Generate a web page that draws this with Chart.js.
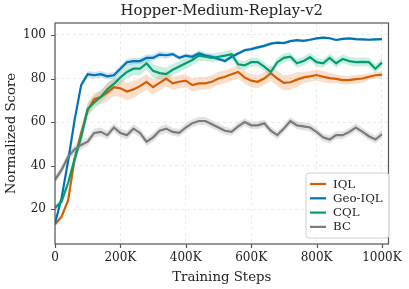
<!DOCTYPE html>
<html>
<head>
<meta charset="utf-8">
<script src="https://cdn.jsdelivr.net/npm/chart.js@4/dist/chart.umd.min.js"></script>
<style>
  html, body { margin: 0; padding: 0; background: #fff; }
  #myChart { display: block; }
</style>
</head>
<body>
<canvas id="myChart" width="409" height="289"></canvas>
<script>
// training curves, values
// x in thousands of steps

var stepsK = [0, 20, 40, 60, 80, 100, 120, 140, 160, 180, 200, 220, 240, 260, 280, 300, 320, 340, 360, 380,
    400, 420, 440, 460, 480, 500, 520, 540, 560, 580, 600, 620, 640, 660, 680, 700, 720, 740, 760, 780,
    800, 820, 840, 860, 880, 900, 920, 940, 960, 980, 1000];

var iql = [13, 16.5, 24, 43, 55, 65.5, 70.5, 71.5, 73.5, 76, 75.5, 74, 75, 76.5, 78.5, 76, 78, 80, 77.8, 78.5,
    79, 77, 77.8, 77.8, 78.5, 80, 80.8, 82, 83, 80.5, 79, 78.5, 80, 82.5, 80, 78, 78.3, 79.5, 80.5, 81,
    81.6, 80.8, 80.2, 79.8, 79.3, 79.3, 79.7, 80, 80.8, 81.5, 81.8];
var geoIql = [13.5, 25, 42, 61, 77, 82, 81.5, 82, 81, 81.5, 84.5, 87.5, 88, 88, 89.5, 89.5, 91, 90.7, 91.2, 89.5,
    90.5, 90, 91.5, 90.5, 90, 89, 88, 90, 91.5, 93, 93.5, 94.3, 95, 96, 96.5, 96.3, 97.2, 97.6, 97.3, 97.8,
    98.4, 98.8, 98.5, 97.7, 98.2, 98.4, 98.1, 98, 97.8, 98, 98.1];
var cql = [20.5, 23.5, 32, 43, 53, 66, 69, 71.5, 75, 77.5, 80.5, 83, 84.5, 84.5, 87, 83.5, 82.5, 82, 84, 85.5,
    87, 88.5, 90.5, 90, 89.5, 90, 90.5, 91.2, 86.5, 86, 87.5, 87.5, 85.5, 83, 87.5, 89.5, 90, 87, 88, 89.8,
    87.5, 87, 89.5, 87, 89, 88, 87.5, 87.6, 87.5, 84.5, 87.3];
var bc = [33.5, 38, 44, 47.5, 49.5, 51, 55, 55.5, 54, 57.5, 55, 54, 57, 55, 51, 53, 56, 57, 55.5, 55,
    57.5, 59.5, 60.5, 60.5, 59, 57.5, 56, 55.5, 58, 60, 58.5, 58.5, 59.4, 56, 54, 57, 60.5, 58.5, 58, 57.5,
    55.5, 53, 52, 54, 54, 55.5, 57.5, 55.6, 53.5, 52, 54.4];

// half width of the shaded band, one value per 100K
var spreadStepsK = [0, 100, 200, 300, 400, 500, 600, 700, 800, 900, 1000];
var iqlSpread = [1, 3, 4, 3.5, 3, 3, 3, 3.5, 2.5, 2, 1.5];
var geoIqlSpread = [1, 1.5, 1.5, 1.5, 1, 1, 0.8, 0.6, 0.6, 0.6, 0.6];
var cqlSpread = [1.5, 3, 3, 3, 2.5, 2, 2, 2, 2, 2, 2];
var bcSpread = [2, 2, 2, 2, 1.8, 1.8, 1.8, 1.8, 1.8, 1.8, 1.8];

var xTicks = [0, 200, 400, 600, 800, 1000];
var yTicks = [20, 40, 60, 80, 100];

var series = [
    { label: 'IQL', data: iql, spread: iqlSpread, color: '#d55e00', band: 'rgba(240, 150, 90, 0.3)', order: 4 },
    { label: 'Geo-IQL', data: geoIql, spread: geoIqlSpread, color: '#0173b2', band: 'rgba(80, 160, 220, 0.3)', order: 3 },
    { label: 'CQL', data: cql, spread: cqlSpread, color: '#029e73', band: 'rgba(80, 200, 160, 0.3)', order: 2 },
    { label: 'BC', data: bc, spread: bcSpread, color: '#7b7b7b', band: 'rgba(160, 160, 160, 0.3)', order: 1 }
];

function spreadAt(arr, k) {
    var i = Math.round(k / 100);
    return arr[i];
}

// building datasets: band upper, band lower (filled), then the line
var datasets = [];
series.forEach(function (s) {
    datasets.push({
        label: s.label + ' upper',
        data: stepsK.map(function (k, i) { return { x: k, y: s.data[i] + spreadAt(s.spread, k) }; }),
        borderWidth: 0, pointRadius: 0, fill: false, order: 10
    });
    datasets.push({
        label: s.label + ' lower',
        data: stepsK.map(function (k, i) { return { x: k, y: s.data[i] - spreadAt(s.spread, k) }; }),
        borderWidth: 0, pointRadius: 0, fill: '-1', backgroundColor: s.band, order: 10
    });
    datasets.push({
        label: s.label,
        data: stepsK.map(function (k, i) { return { x: k, y: s.data[i] }; }),
        borderColor: s.color, borderWidth: 2.2, pointRadius: 0, fill: false, tension: 0, order: s.order
    });
});

var FONT = "'DejaVu Serif', 'Liberation Serif', serif";

// frame, tick marks, titles and legend
var decorations = {
    id: 'decorations',
    afterDraw: function (chart) {
        var c = chart.ctx;
        var a = chart.chartArea;
        var xs = chart.scales.x;
        var ys = chart.scales.y;
        c.save();
        c.strokeStyle = '#555555';
        c.lineWidth = 1.2;
        c.strokeRect(a.left, a.top, a.right - a.left, a.bottom - a.top);
        c.beginPath();
        xTicks.forEach(function (v) {
            var px = Math.round(xs.getPixelForValue(v)) + 0.5;
            c.moveTo(px, a.bottom);
            c.lineTo(px, a.bottom + 4);
        });
        yTicks.forEach(function (v) {
            var py = Math.round(ys.getPixelForValue(v)) + 0.5;
            c.moveTo(a.left, py);
            c.lineTo(a.left - 4, py);
        });
        c.stroke();

        c.fillStyle = '#222222';
        c.textAlign = 'center';
        c.textBaseline = 'middle';
        c.font = '14.8px ' + FONT;
        c.fillText('Hopper-Medium-Replay-v2', (a.left + a.right) / 2, 11);
        c.font = '13.3px ' + FONT;
        c.fillText('Training Steps', (a.left + a.right) / 2, 278);
        c.save();
        c.translate(12, (a.top + a.bottom) / 2);
        c.rotate(-Math.PI / 2);
        c.fillText('Normalized Score', 0, 0);
        c.restore();

        // legend box
        var lx = 306, ly = 173, lw = 83, lh = 65;
        c.beginPath();
        c.roundRect(lx, ly, lw, lh, 3);
        c.fillStyle = 'rgba(255, 255, 255, 0.85)';
        c.fill();
        c.strokeStyle = '#d0d0d0';
        c.lineWidth = 1;
        c.stroke();
        c.font = '11.8px ' + FONT;
        c.textAlign = 'left';
        series.forEach(function (s, i) {
            var ry = 184 + i * 14.3;
            c.strokeStyle = s.color;
            c.lineWidth = 2.2;
            c.beginPath();
            c.moveTo(310, ry);
            c.lineTo(326, ry);
            c.stroke();
            c.fillStyle = '#222222';
            c.fillText(s.label, 333, ry + 0.5);
        });
        c.restore();
    }
};

var ctx = document.getElementById('myChart').getContext('2d');
var myChart = new Chart(ctx, {
    type: 'line',
    data: { datasets: datasets },
    plugins: [decorations],
    options: {
        responsive: false,
        animation: false,
        devicePixelRatio: 1,
        layout: { padding: { top: 23, right: 15, bottom: 0, left: 0 } },
        plugins: {
            legend: { display: false },
            title: { display: false },
            tooltip: { enabled: false }
        },
        scales: {
            x: {
                type: 'linear',
                min: 0,
                max: 1020,
                afterBuildTicks: function (scale) {
                    scale.ticks = xTicks.map(function (v) { return { value: v }; });
                },
                afterFit: function (scale) { scale.height = 45; },
                ticks: {
                    font: { family: FONT, size: 12 },
                    color: '#222222',
                    padding: 7,
                    maxRotation: 0,
                    callback: function (v) { return v === 0 ? '0' : v + 'K'; }
                },
                grid: { color: '#e6e6e6', drawTicks: false, lineWidth: 0.8 },
                border: { display: false, dash: [3, 3] }
            },
            y: {
                min: 4,
                max: 105.5,
                afterBuildTicks: function (scale) {
                    scale.ticks = yTicks.map(function (v) { return { value: v }; });
                },
                afterFit: function (scale) { scale.width = 55; },
                ticks: {
                    font: { family: FONT, size: 12 },
                    color: '#222222',
                    padding: 9
                },
                grid: { color: '#e6e6e6', drawTicks: false, lineWidth: 0.8 },
                border: { display: false, dash: [3, 3] }
            }
        }
    }
});
</script>
</body>
</html>
